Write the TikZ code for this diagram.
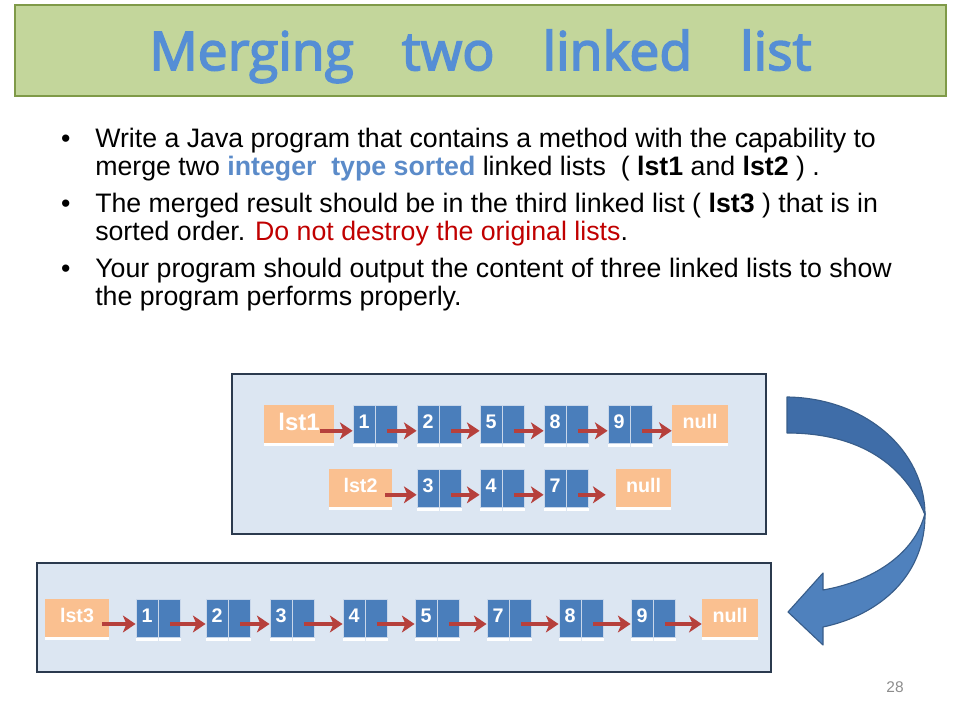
\documentclass[tikz,border=0pt]{standalone}
\usepackage{fontspec}
\setmainfont{Liberation Sans}
\newfontfamily\titlefont[FakeBold=3]{Open Sans}
\usetikzlibrary{arrows.meta,positioning,shadows}

\definecolor{titlegreen}{HTML}{C3D69B}
\definecolor{titleedge}{HTML}{7F9A48}
\definecolor{titleblue}{HTML}{558ED5}
\definecolor{hiblue}{HTML}{5B8BC9}
\definecolor{warnred}{HTML}{C00000}
\definecolor{panelfill}{HTML}{DCE6F2}
\definecolor{paneledge}{HTML}{2B3A4E}
\definecolor{cellblue}{HTML}{4A7EBB}
\definecolor{celledge}{HTML}{C9D7EA}
\definecolor{headorange}{HTML}{FAC090}
\definecolor{linkred}{HTML}{B6403C}
\definecolor{bigblue}{HTML}{4F81BD}
\definecolor{bigdark}{HTML}{3F6DA8}
\definecolor{bigedge}{HTML}{385D8A}

\begin{document}
\begin{tikzpicture}[x=0.025cm, y=-0.025cm,
    titlebox/.style={draw=titleedge, line width=1pt, fill=titlegreen, minimum width=23.275cm, minimum height=2.275cm, text=titleblue, font=\titlefont\fontsize{38}{40}\selectfont, text height=37pt, text depth=9pt},
    item/.style={anchor=north west, inner sep=0pt, align=left, font=\fontsize{19}{20.3}\selectfont},
    panel/.style={draw=paneledge, line width=1pt, fill=panelfill},
    val/.style={draw=celledge, line width=0.6pt, fill=cellblue, minimum width=0.55cm, minimum height=0.95cm, inner sep=0pt, text=white, font=\bfseries\fontsize{14}{14}\selectfont, text height=10pt, text depth=3pt, general shadow={fill=white, shadow yshift=-2.5pt}},
    ptr/.style={val},
    head/.style={fill=headorange, minimum height=0.93cm, inner sep=0pt, text=white, font=\bfseries\fontsize{14}{14}\selectfont, text height=10pt, text depth=3pt, general shadow={fill=white, shadow yshift=-2.5pt}},
    link/.style={-{Stealth[length=9pt, width=12pt, inset=2.5pt]}, line width=3pt, draw=linkred},
    pagenum/.style={text=black!45, font=\fontsize{11}{11}\selectfont}
]
\useasboundingbox (0,0) rectangle (960,720);

% title and text
\node[titlebox] (title) at (480.5,50.5) {Merging\hspace{1.2cm}two\hspace{1.2cm}linked\hspace{1.2cm}list};
\node[item] (p1) at (95,127) {\llap{\textbullet\hspace{0.62cm}}\strut Write a Java program that contains a method with the capability to\\
    merge two \textcolor{hiblue}{\textbf{integer\ \ type sorted}} linked lists \ ( \textbf{lst1} and \textbf{lst2} ) .};
\node[item] (p2) at (95,192) {\llap{\textbullet\hspace{0.62cm}}\strut The merged result should be in the third linked list ( \textbf{lst3} ) that is in\\
    sorted order. \textcolor{warnred}{Do not destroy the original lists}.};
\node[item] (p3) at (95,257) {\llap{\textbullet\hspace{0.62cm}}\strut Your program should output the content of three linked lists to show\\
    the program performs properly.};

% the two input lists
\node[panel, minimum width=13.35cm, minimum height=4cm] (box1) at (499,454) {};
\node[head, minimum width=1.75cm, font=\bfseries\fontsize{17}{17}\selectfont, text height=12pt] (lst1) at (299,424) {lst1};
\node[val] (a1) at (364,424) {1};
\node[ptr, right=0pt of a1] (a1p) {};
\node[val] (a2) at (428,424) {2};
\node[ptr, right=0pt of a2] (a2p) {};
\node[val] (a3) at (491,424) {5};
\node[ptr, right=0pt of a3] (a3p) {};
\node[val] (a4) at (555,424) {8};
\node[ptr, right=0pt of a4] (a4p) {};
\node[val] (a5) at (619,424) {9};
\node[ptr, right=0pt of a5] (a5p) {};
\node[head, minimum width=1.4cm] (nullA) at (700,424) {null};

\node[head, minimum width=1.58cm] (lst2) at (360.5,488) {lst2};
\node[val] (b1) at (428,488) {3};
\node[ptr, right=0pt of b1] (b1p) {};
\node[val] (b2) at (491,488) {4};
\node[ptr, right=0pt of b2] (b2p) {};
\node[val] (b3) at (555,488) {7};
\node[ptr, right=0pt of b3] (b3p) {};
\node[head, minimum width=1.38cm] (nullB) at (643.5,488) {null};

\draw[link] ([xshift=-0.35cm,yshift=-0.17cm]lst1.east) -- ([yshift=-0.17cm]a1.west);
\draw[link] ([yshift=-0.17cm]a1p.center) -- ([yshift=-0.17cm]a2.west);
\draw[link] ([yshift=-0.17cm]a2p.center) -- ([yshift=-0.17cm]a3.west);
\draw[link] ([yshift=-0.17cm]a3p.center) -- ([yshift=-0.17cm]a4.west);
\draw[link] ([yshift=-0.17cm]a4p.center) -- ([yshift=-0.17cm]a5.west);
\draw[link] ([yshift=-0.17cm]a5p.center) -- ([yshift=-0.17cm]nullA.west);

\draw[link] ([xshift=-0.18cm,yshift=-0.17cm]lst2.east) -- ([yshift=-0.17cm]b1.west);
\draw[link] ([yshift=-0.17cm]b1p.center) -- ([yshift=-0.17cm]b2.west);
\draw[link] ([yshift=-0.17cm]b2p.center) -- ([yshift=-0.17cm]b3.west);
\draw[link] ([yshift=-0.17cm]b3p.center) -- ([xshift=-0.25cm,yshift=-0.17cm]nullB.west);

% the merged list
\node[panel, minimum width=18.35cm, minimum height=2.725cm] (box2) at (404,617.5) {};
\node[head, minimum width=1.6cm] (lst3) at (77,618) {lst3};
\node[val] (c1) at (147,618) {1};
\node[ptr, right=0pt of c1] (c1p) {};
\node[val] (c2) at (217,618) {2};
\node[ptr, right=0pt of c2] (c2p) {};
\node[val] (c3) at (281,618) {3};
\node[ptr, right=0pt of c3] (c3p) {};
\node[val] (c4) at (354,618) {4};
\node[ptr, right=0pt of c4] (c4p) {};
\node[val] (c5) at (426,618) {5};
\node[ptr, right=0pt of c5] (c5p) {};
\node[val] (c6) at (498,618) {7};
\node[ptr, right=0pt of c6] (c6p) {};
\node[val] (c7) at (570,618) {8};
\node[ptr, right=0pt of c7] (c7p) {};
\node[val] (c8) at (642,618) {9};
\node[ptr, right=0pt of c8] (c8p) {};
\node[head, minimum width=1.4cm] (nullC) at (730,618) {null};

\draw[link] ([xshift=-0.18cm,yshift=-0.15cm]lst3.east) -- ([yshift=-0.15cm]c1.west);
\draw[link] ([yshift=-0.15cm]c1p.center) -- ([yshift=-0.15cm]c2.west);
\draw[link] ([yshift=-0.15cm]c2p.center) -- ([yshift=-0.15cm]c3.west);
\draw[link] ([yshift=-0.15cm]c3p.center) -- ([yshift=-0.15cm]c4.west);
\draw[link] ([yshift=-0.15cm]c4p.center) -- ([yshift=-0.15cm]c5.west);
\draw[link] ([yshift=-0.15cm]c5p.center) -- ([yshift=-0.15cm]c6.west);
\draw[link] ([yshift=-0.15cm]c6p.center) -- ([yshift=-0.15cm]c7.west);
\draw[link] ([yshift=-0.15cm]c7p.center) -- ([yshift=-0.15cm]c8.west);
\draw[link] ([yshift=-0.15cm]c8p.center) -- ([yshift=-0.15cm]nullC.west);

% big turning arrow
\filldraw[fill=bigdark, draw=bigedge, line width=0.8pt, line join=round]
    (787,397) .. controls (865,398) and (925,450) .. (925,515)
    .. controls (905,465) and (860,433) .. (787,433) -- cycle;
\filldraw[fill=bigblue, draw=bigedge, line width=0.8pt, line join=round]
    (925,513) .. controls (926,575) and (880,615) .. (823,627)
    -- (823,645) -- (788,612) -- (823,573) -- (823,590)
    .. controls (870,582) and (915,555) .. (925,513) -- cycle;

\node[pagenum] (page) at (895,687) {28};
\end{tikzpicture}
\end{document}
